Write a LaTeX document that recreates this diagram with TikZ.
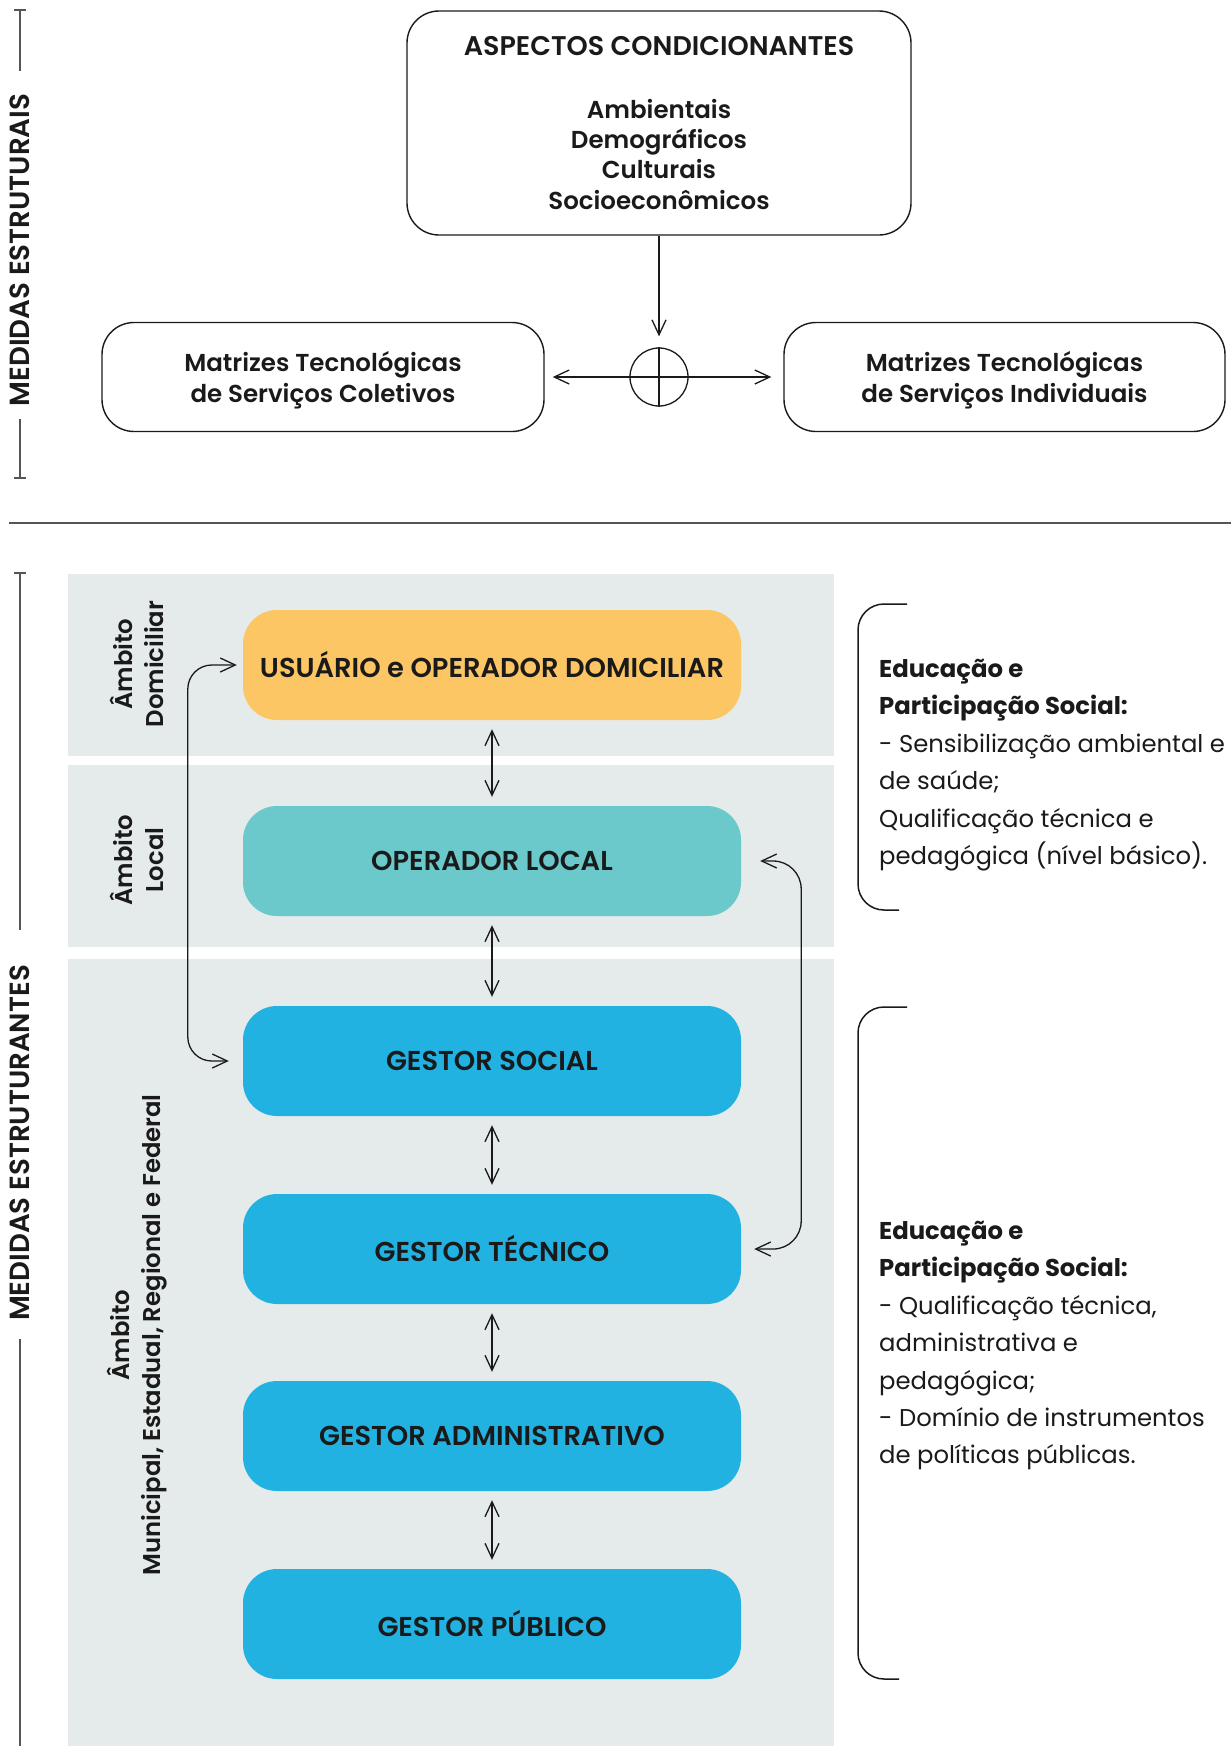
\documentclass[tikz,border=0pt]{standalone}
\usepackage{fontspec}
\setmainfont{Poppins}
\newfontfamily\psemi{Poppins SemiBold}
\newfontfamily\pmed{Poppins Medium}
\usetikzlibrary{arrows.meta,calc}
\definecolor{panel}{HTML}{E5EBEB}
\definecolor{orangebox}{HTML}{FDC664}
\definecolor{tealbox}{HTML}{6BC9CB}
\definecolor{bluebox}{HTML}{22B2E1}
\definecolor{rulegray}{HTML}{555555}
\definecolor{ink}{HTML}{1A1A1A}
\begin{document}
\begin{tikzpicture}[x=1pt,y=-1pt,
  outlinebox/.style={draw=ink, line width=1.4pt, rounded corners=32pt, align=center, inner sep=0pt,
     font=\psemi\fontsize{24.5}{30.4}\selectfont, text=ink},
  colbox/.style={rounded corners=34pt, minimum width=498pt, minimum height=110pt, inner sep=0pt,
     font=\psemi\fontsize{27.3}{30}\selectfont, text=ink},
  arr/.style={line width=1.3pt, draw=ink, -{Straight Barb[length=15pt,width=14pt]}},
  dbl/.style={line width=1.3pt, draw=ink, {Straight Barb[length=15pt,width=14pt]}-{Straight Barb[length=15pt,width=14pt]}},
  sidelabel/.style={rotate=90, font=\psemi\fontsize{27.7}{30}\selectfont, text=ink, inner sep=0pt},
  sideline/.style={draw=rulegray, line width=2pt},
  ambito/.style={rotate=90, align=center, font=\psemi\fontsize{24.3}{31}\selectfont, text=ink, inner sep=0pt},
  brk/.style={draw=ink, line width=1.5pt, rounded corners=26pt},
  note/.style={align=left, anchor=north west, inner sep=0pt, font=\fontsize{24.3}{37.4}\selectfont, text=ink}
]
\useasboundingbox (0,0) rectangle (1231,1746);

% ---------- upper section ----------
\node[outlinebox, minimum width=504pt, minimum height=224pt] (asp) at (659,123)
  {{\fontsize{27}{30}\selectfont ASPECTOS CONDICIONANTES}\\[32pt]Ambientais\\Demográficos\\Culturais\\Socioeconômicos};
\node[outlinebox, minimum width=442pt, minimum height=109pt] (mcol) at (323,377)
  {\raisebox{-4pt}[\height][\depth]{\begin{tabular}{@{}c@{}}Matrizes Tecnológicas\\de Serviços Coletivos\end{tabular}}};
\node[outlinebox, minimum width=441pt, minimum height=109pt] (mind) at (1004.5,377)
  {\raisebox{-4pt}[\height][\depth]{\begin{tabular}{@{}c@{}}Matrizes Tecnológicas\\de Serviços Individuais\end{tabular}}};
\node[draw=ink, line width=1.3pt, circle, minimum size=58pt, inner sep=0pt] (circ) at (659,377) {};
\draw[line width=1.3pt, draw=ink] (circ.north) -- (circ.south);
\draw[arr, shorten >=11pt] (asp.south) -- (circ.north);
\draw[arr] (circ.center) -- ([xshift=8pt]mcol.east);
\draw[arr] (circ.center) -- ([xshift=-12pt]mind.west);

\node[sidelabel] (mest) at (20,250) {MEDIDAS ESTRUTURAIS};
\draw[sideline] (14,10) -- (26,10);
\draw[sideline] (20,10) -- (20,71);
\draw[sideline] (20,419) -- (20,478);
\draw[sideline] (14,478) -- (26,478);

\draw[draw=rulegray, line width=2.4pt] (9,523) -- (1231,523);

% ---------- lower section ----------
\fill[panel] (68,574) rectangle (834,756);
\fill[panel] (68,765) rectangle (834,947);
\fill[panel] (68,959) rectangle (834,1746);

\node[sidelabel] (mestr) at (20,1143) {MEDIDAS ESTRUTURANTES};
\draw[sideline] (14,573) -- (26,573);
\draw[sideline] (20,573) -- (20,930);
\draw[sideline] (20,1339) -- (20,1746);

\node[ambito] (amb1) at (137,664) {Âmbito\\Domiciliar};
\node[ambito] (amb2) at (137,860) {Âmbito\\Local};
\node[ambito] (amb3) at (137,1335) {Âmbito\\Municipal, Estadual, Regional e Federal};

\node[colbox, fill=orangebox] (b1) at (492,665) {USUÁRIO e OPERADOR DOMICILIAR};
\node[colbox, fill=tealbox]   (b2) at (492,861) {OPERADOR LOCAL};
\node[colbox, fill=bluebox]   (b3) at (492,1061) {GESTOR SOCIAL};
\node[colbox, fill=bluebox]   (b4) at (492,1249) {GESTOR TÉCNICO};
\node[colbox, fill=bluebox]   (b5) at (492,1436) {GESTOR ADMINISTRATIVO};
\node[colbox, fill=bluebox]   (b6) at (492,1624) {GESTOR PÚBLICO};

\foreach \a/\b in {b1/b2,b2/b3,b3/b4,b4/b5,b5/b6}
  \draw[dbl, shorten >=9pt, shorten <=9pt] (\a.south) -- (\b.north);

\draw[dbl, rounded corners=24pt] ([xshift=-6pt]b1.west) -| ([xshift=-55pt]b3.west) -- ([xshift=-14pt]b3.west);
\draw[dbl, rounded corners=28pt] ([xshift=19pt]b2.east) -| ([xshift=60pt]b4.east) -- ([xshift=13pt]b4.east);

% ---------- notes ----------
\draw[brk] (907,604) -- (858,604) -- (858,910) -- (899,910);
\draw[brk] (907,1007) -- (858,1007) -- (858,1679) -- (899,1679);

\node[note] (n1) at (879,659)
  {{\bfseries Educação e}\\{\bfseries Participação Social:}\\- Sensibilização ambiental e\\de saúde;\\Qualificação técnica e\\pedagógica (nível básico).};
\node[note] (n2) at (879,1221)
  {{\bfseries Educação e}\\{\bfseries Participação Social:}\\- Qualificação técnica,\\administrativa e\\pedagógica;\\- Domínio de instrumentos\\de políticas públicas.};
\end{tikzpicture}
\end{document}
